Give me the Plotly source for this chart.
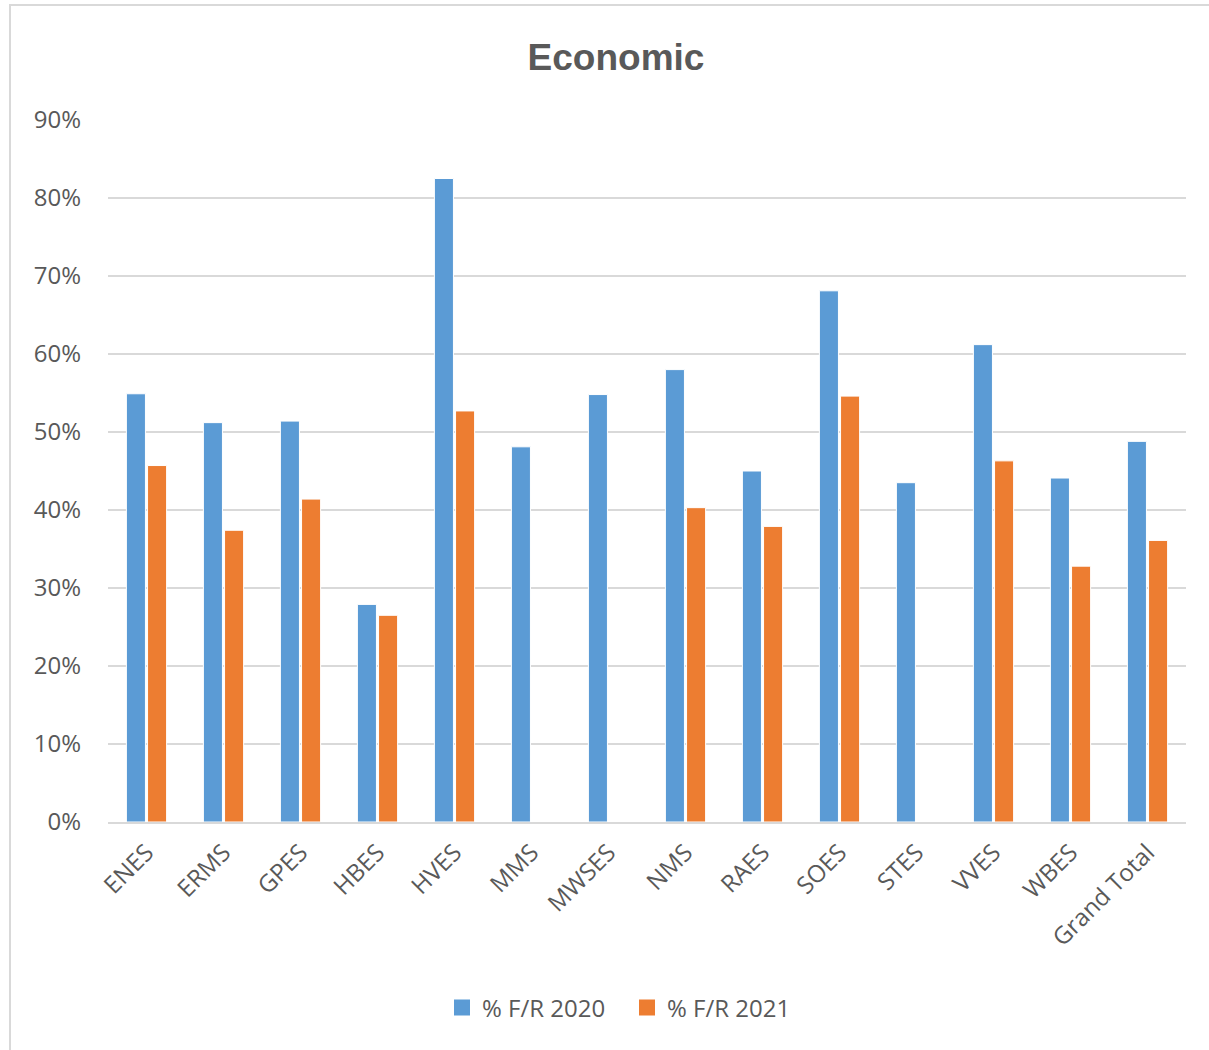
import plotly.graph_objects as go

categories = ["ENES", "ERMS", "GPES", "HBES", "HVES", "MMS", "MWSES", "NMS",
              "RAES", "SOES", "STES", "VVES", "WBES", "Grand Total"]
fr_2020 = [0.549, 0.512, 0.514, 0.279, 0.825, 0.481, 0.548, 0.580,
           0.450, 0.681, 0.435, 0.612, 0.441, 0.488]
fr_2021 = [0.457, 0.374, 0.414, 0.265, 0.527, None, None, 0.403,
           0.379, 0.546, None, 0.463, 0.328, 0.361]
y_ticks = [0, 0.1, 0.2, 0.3, 0.4, 0.5, 0.6, 0.7, 0.8, 0.9]
series_names = ["% F/R 2020", "% F/R 2021"]
colors = ["#5B9BD5", "#ED7D31"]

FONT = "Open Sans, Noto Sans, DejaVu Sans, sans-serif"
TXT = "#595959"

fig = go.Figure()
for vals, name, col in zip([fr_2020, fr_2021], series_names, colors):
    fig.add_trace(go.Bar(x=categories, y=vals, name=name, showlegend=False,
                         marker=dict(color=col, line=dict(color="white", width=1))))
# legend-only entries with larger square swatches
for name, col in zip(series_names, colors):
    fig.add_trace(go.Scatter(x=[None], y=[None], mode="markers", name=name,
                             marker=dict(symbol="square", size=16, color=col)))

L, R, T, B = 108, 23, 120, 228
W, H = 1209, 1050
pw, ph = W - L - R, H - T - B

def px_x(x):
    return (x - L) / pw

def px_y(y):
    return (H - B - y) / ph

fig.update_layout(
    width=W, height=H,
    margin=dict(l=L, r=R, t=T, b=B, autoexpand=False),
    paper_bgcolor="white", plot_bgcolor="white",
    barmode="group", bargap=0.45, bargroupgap=0.1,
    title=dict(text="<b>Economic</b>", xref="container", x=616 / W, xanchor="center",
               y=1 - 57 / H, yanchor="middle",
               font=dict(family="Liberation Sans, Arial, sans-serif", size=37, color=TXT)),
    font=dict(family=FONT, color=TXT, size=24),
    xaxis=dict(tickangle=-45, showgrid=False, showline=True, linecolor="#D9D9D9",
               linewidth=2, ticks="", ticklabelstandoff=5,
               tickfont=dict(size=24, color=TXT, family=FONT)),
    yaxis=dict(range=[0, 0.9], tickvals=y_ticks, tickformat=".0%",
               showgrid=True, gridcolor="#D9D9D9", gridwidth=2, zeroline=False,
               ticks="", ticklen=0, ticklabelstandoff=26,
               tickfont=dict(size=24, color=TXT, family=FONT)),
    legend=dict(orientation="h", x=px_x(627), xanchor="center",
                y=px_y(1008), yanchor="middle",
                font=dict(size=24, color=TXT, family=FONT), itemwidth=30,
                entrywidth=140, tracegroupgap=0),
    shapes=[dict(type="rect", xref="paper", yref="paper",
                 x0=px_x(10), x1=px_x(1230), y0=px_y(1080), y1=px_y(5),
                 line=dict(color="#D9D9D9", width=2), fillcolor="rgba(0,0,0,0)", layer="below")],
)

fig.write_html("out.html", config={"displayModeBar": False},
               post_script="document.body.style.margin='0px';")
